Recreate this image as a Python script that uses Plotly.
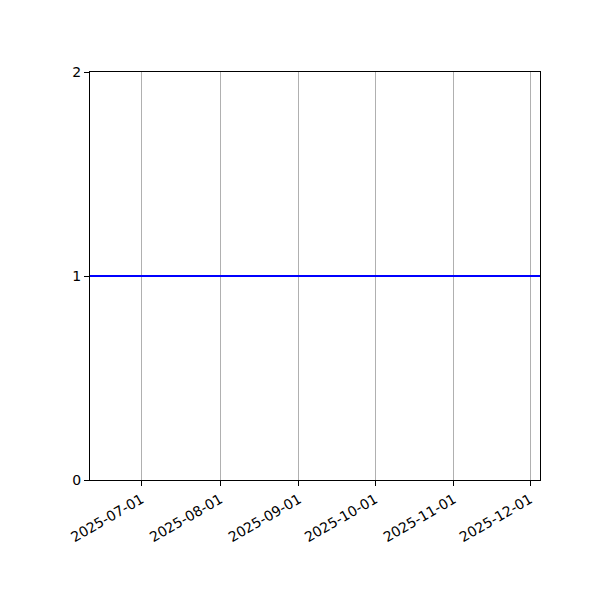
import plotly.graph_objects as go

# data
dates = ["2025-06-10 18:00", "2025-12-04 22:00"]
values = [1, 1]
x_ticks = ["2025-07-01", "2025-08-01", "2025-09-01", "2025-10-01", "2025-11-01", "2025-12-01"]
y_ticks = [0, 1, 2]

fig = go.Figure()
fig.add_trace(go.Scatter(x=dates, y=values, mode='lines',
                         line=dict(color='#0000ff', width=2), showlegend=False))

# page body has an 8px margin, so shift things up/left
fig.update_layout(
    width=600, height=600,
    margin=dict(l=82, r=68, t=64, b=128),
    plot_bgcolor='white', paper_bgcolor='white',
    font=dict(family='DejaVu Sans', size=14, color='black'),
)
fig.update_xaxes(
    type='date', range=[dates[0], dates[-1]],
    tickvals=x_ticks, ticktext=x_ticks, tickangle=-30,
    showgrid=True, gridcolor='#b0b0b0', gridwidth=1,
    showline=True, linecolor='black', linewidth=1, mirror=True,
    ticks='outside', ticklen=5, tickcolor='black', zeroline=False,
)
fig.update_yaxes(
    range=[0, 2], tickvals=y_ticks, showgrid=False,
    showline=True, linecolor='black', linewidth=1, mirror=True,
    ticks='outside', ticklen=5, tickcolor='black', zeroline=False,
)

fig.write_html("out.html")
